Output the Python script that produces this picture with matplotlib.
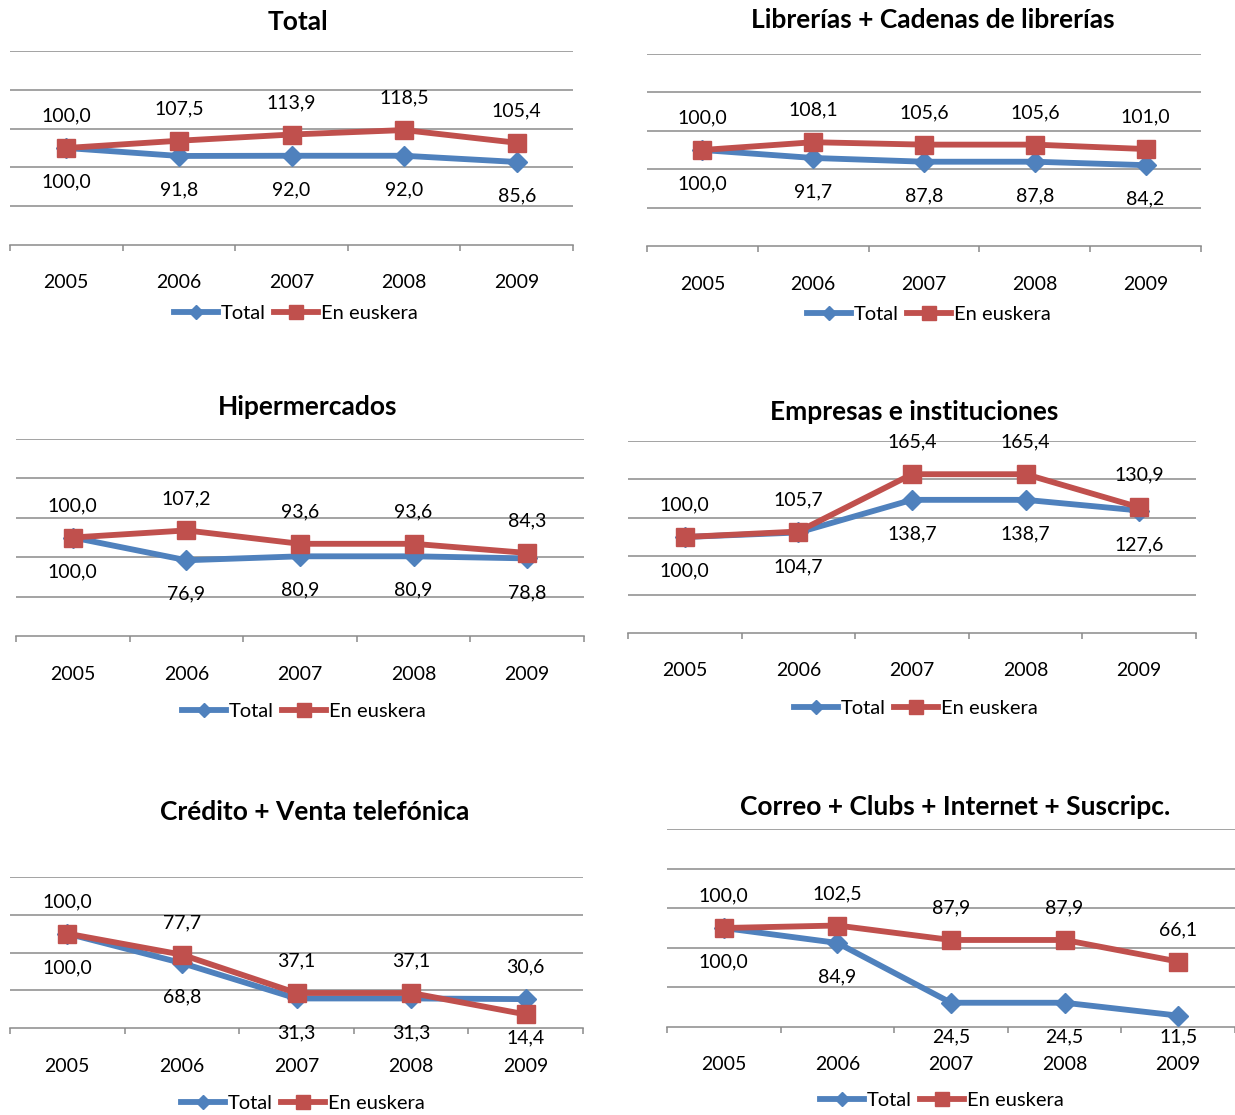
import matplotlib
matplotlib.use('Agg')
import matplotlib.pyplot as plt

plt.rcParams['font.family'] = ['Lato', 'DejaVu Sans']

years = ['2005', '2006', '2007', '2008', '2009']
titles = ['Total', 'Librerías + Cadenas de librerías', 'Hipermercados',
          'Empresas e instituciones', 'Crédito + Venta telefónica',
          'Correo + Clubs + Internet + Suscripc.']

total_total = [100.0, 91.8, 92.0, 92.0, 85.6]
total_eusk = [100.0, 107.5, 113.9, 118.5, 105.4]
libr_total = [100.0, 91.7, 87.8, 87.8, 84.2]
libr_eusk = [100.0, 108.1, 105.6, 105.6, 101.0]
hiper_total = [100.0, 76.9, 80.9, 80.9, 78.8]
hiper_eusk = [100.0, 107.2, 93.6, 93.6, 84.3]
empr_total = [100.0, 104.7, 138.7, 138.7, 127.6]
empr_eusk = [100.0, 105.7, 165.4, 165.4, 130.9]
cred_total = [100.0, 68.8, 31.3, 31.3, 30.6]
cred_eusk = [100.0, 77.7, 37.1, 37.1, 14.4]
corr_total = [100.0, 84.9, 24.5, 24.5, 11.5]
corr_eusk = [100.0, 102.5, 87.9, 87.9, 66.1]

series = [(total_total, total_eusk), (libr_total, libr_eusk),
          (hiper_total, hiper_eusk), (empr_total, empr_eusk),
          (cred_total, cred_eusk), (corr_total, corr_eusk)]
ymax = [200, 200, 200, 200, 160, 200]

# panel geometry in pixels: x0, x1, top gridline, axis line
boxes = [(10, 573, 51, 245), (647, 1201, 54, 246),
         (16, 584, 439, 636), (628, 1196, 441, 633),
         (10, 583, 877, 1028), (667, 1235, 829, 1027)]
title_pos = [(298, 22), (933, 20), (308, 407), (914, 412), (315, 812), (955, 807)]
legend_pos = [(296, 313), (929, 314), (304, 711), (916, 708), (303, 1103), (942, 1100)]

BLUE = '#4F81BD'
RED = '#C0504D'
GRID = '#8a8a8a'
W, H = 1235, 1115

fig = plt.figure(figsize=(W / 100, H / 100), dpi=100)


def fmt(v):
    return f"{v:.1f}".replace('.', ',')


def put_label(ax, k, v, above, ya):
    # point position in pixels from the top of the figure
    py = H - ax.transData.transform((k, v))[1]
    if above:
        ly = py - 32
    else:
        # labels below are kept inside the plot area, like Excel does
        ly = min(py + 34, ya + 10)
    ax.annotate(fmt(v), (k, 1 - ly / H), xycoords=('data', 'figure fraction'),
                ha='center', va='center', fontsize=14)


for i in range(6):
    x0, x1, yt, ya = boxes[i]
    ax = fig.add_axes([x0 / W, 1 - ya / H, (x1 - x0) / W, (ya - yt) / H])
    tot, eus = series[i]
    xs = range(len(years))

    ax.set_xlim(-0.5, len(years) - 0.5)
    ax.set_ylim(0, ymax[i])
    ax.set_yticks(range(40, ymax[i] + 1, 40))
    ax.yaxis.grid(True, color=GRID, linewidth=1.1)
    ax.tick_params(axis='y', left=False, labelleft=False)
    ax.set_xticks([k - 0.5 for k in range(len(years) + 1)])
    ax.tick_params(axis='x', direction='out', length=4.5, width=1.1,
                   color=GRID, labelbottom=False)
    for s in ['top', 'right', 'left']:
        ax.spines[s].set_visible(False)
    ax.spines['bottom'].set_color(GRID)
    ax.spines['bottom'].set_linewidth(1.1)
    ax.set_axisbelow(True)

    ax.plot(xs, tot, color=BLUE, lw=4.2, marker='D', ms=10, label='Total',
            clip_on=False, zorder=3)
    ax.plot(xs, eus, color=RED, lw=4.2, marker='s', ms=13, label='En euskera',
            clip_on=False, zorder=4)

    for k in xs:
        eus_up = eus[k] >= tot[k]
        put_label(ax, k, eus[k], eus_up, ya)
        put_label(ax, k, tot[k], not eus_up, ya)
        ax.annotate(years[k], (k, 0), xycoords=('data', 'axes fraction'),
                    xytext=(0, -38), textcoords='offset pixels',
                    ha='center', va='center', fontsize=14)

    tx, ty = title_pos[i]
    fig.text(tx / W, 1 - ty / H, titles[i], ha='center', va='center',
             fontsize=19, fontweight='bold')

    lx, ly = legend_pos[i]
    ax.legend(loc='center', bbox_to_anchor=(lx / W, 1 - ly / H),
              bbox_transform=fig.transFigure, ncol=2, frameon=False,
              fontsize=14.5, handlelength=2.2, handletextpad=0.15,
              columnspacing=0.4, markerscale=0.75, borderpad=0)

fig.savefig('out.png', dpi=100, facecolor='white')
